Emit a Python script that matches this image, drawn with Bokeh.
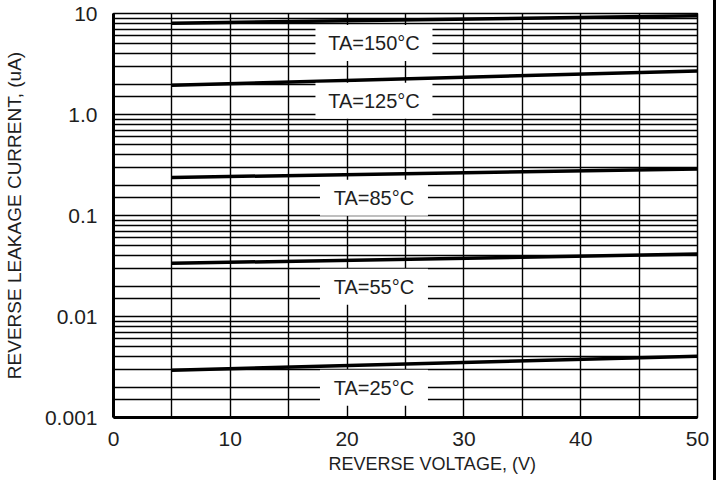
from bokeh.plotting import figure
from bokeh.models import FixedTicker, Title
from bokeh.core.properties import value
from bokeh.embed import file_html
from bokeh.resources import INLINE

# ---- data ----
voltage = [5, 50]
i_150 = [8.0, 9.5]
i_125 = [1.95, 2.7]
i_85 = [0.238, 0.289]
i_55 = [0.0336, 0.0415]
i_25 = [0.00294, 0.00403]
series = [i_150, i_125, i_85, i_55, i_25]

labels = ["TA=150°C", "TA=125°C", "TA=85°C", "TA=55°C", "TA=25°C"]
label_x = [22.3, 22.3, 22.3, 22.3, 22.3]
label_y = [5.1, 1.37, 0.15, 0.0197, 0.00197]
label_box_w = [117, 117, 108, 108, 108]

x_ticks = [0, 10, 20, 30, 40, 50]
y_ticks = [0.001, 0.01, 0.1, 1, 10]
y_tick_labels = ["0.001", "0.01", "0.1", "1.0", "10"]

FONT = "Liberation Sans"
INK = "#1e1e1e"

p = figure(frame_width=584, frame_height=404, y_axis_type="log",
           x_range=(0, 50), y_range=(0.001, 10),
           output_backend="svg", toolbar_location=None,
           min_border_left=105, min_border_top=13, min_border_right=16,
           min_border_bottom=63)
p.background_fill_color = "white"
p.border_fill_color = "white"
p.outline_line_color = "black"
p.outline_line_width = 1.5
p.styles = {"border-right": "3px solid black"}

# grids
grid_x = list(range(0, 55, 5))
grid_y = []
for e in [-3, -2, -1, 0]:
    for m in [1, 1.5, 2, 3, 4, 5, 6, 7, 8, 9]:
        grid_y.append(m * 10 ** e)
grid_y.append(10)
p.xgrid.ticker = FixedTicker(ticks=grid_x)
p.ygrid.ticker = FixedTicker(ticks=grid_y)
for g in (p.xgrid, p.ygrid):
    g.grid_line_color = "black"
    g.grid_line_width = 1.4
    g.grid_line_alpha = 1.0

# axes
p.xaxis.ticker = FixedTicker(ticks=x_ticks)
p.yaxis.ticker = FixedTicker(ticks=y_ticks)
p.yaxis.major_label_overrides = {t: s for t, s in zip(y_ticks, y_tick_labels)}
for ax in (p.xaxis, p.yaxis):
    ax.axis_line_color = "black"
    ax.axis_line_width = 3
    ax.major_tick_line_color = None
    ax.minor_tick_line_color = None
    ax.major_label_text_font = FONT
    ax.major_label_text_font_size = "21px"
    ax.major_label_text_color = INK
p.xaxis.major_label_standoff = 8
p.yaxis.major_label_standoff = 10

p.yaxis.axis_label = "REVERSE LEAKAGE CURRENT, (uA)"
p.yaxis.axis_label_text_font = FONT
p.yaxis.axis_label_text_font_size = "19px"
p.yaxis.axis_label_text_font_style = "normal"
p.yaxis.axis_label_text_color = INK
p.yaxis.axis_label_standoff = 17

# curves
for ys in series:
    p.line(voltage, ys, line_color="black", line_width=3.5)

# label boxes
p.rect(x=label_x, y=label_y, width=label_box_w, height=[36] * 5,
       width_units="screen", height_units="screen",
       fill_color="white", line_color=None)
p.text(x=label_x, y=label_y, text=labels, text_font=value(FONT),
       text_font_size="20px", text_align="center", text_baseline="middle",
       text_color=INK)

# x axis title (placed as a below title so it can sit off-centre like the reference)
xt = Title(text="REVERSE VOLTAGE, (V)", align="left", offset=215,
           text_font=FONT, text_font_size="18px", text_font_style="normal",
           text_color=INK, standoff=6)
p.add_layout(xt, "below")

open("out.html", "w").write(file_html(p, INLINE))
